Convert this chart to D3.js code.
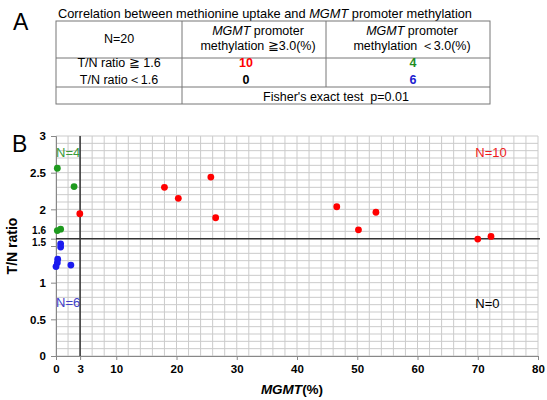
<!DOCTYPE html>
<html>
<head>
<meta charset="utf-8">
<script src="https://cdn.jsdelivr.net/npm/d3@7"></script>
<style>
body { margin: 0; background: #fff; }
svg text { font-family: "Liberation Sans", Arial, sans-serif; }
</style>
</head>
<body>
<div id="chart"></div>
<script>
// Scatter data: MGMT(%) vs T/N ratio
var red_x = [3.95, 18.0, 20.3, 25.7, 26.5, 46.6, 50.2, 53.1, 70.0, 72.2];
var red_y = [1.94, 2.30, 2.15, 2.44, 1.885, 2.035, 1.72, 1.96, 1.594, 1.63];
var green_x = [0.22, 3.0, 0.22, 0.77];
var green_y = [2.56, 2.31, 1.71, 1.73];
var blue_x = [0.77, 0.77, 0.28, 0.22, 0.0, 2.47];
var blue_y = [1.53, 1.485, 1.32, 1.27, 1.22, 1.24];

// Axis ticks
var x_ticks = [0, 10, 20, 30, 40, 50, 60, 70, 80];
var y_ticks = [0, 0.5, 1, 1.5, 1.6, 2, 2.5, 3];
var x_cut = 4;          // where the threshold line sits on the drawn axis
var x_cut_label = "3";  // label printed under it
var y_cut = 1.6;

// Quadrant counts
var quad_labels = ["N=4", "N=10", "N=6", "N=0"];

// Table A
var table_title = ["Correlation between methionine uptake and ", "MGMT", " promoter methylation"];
var row_labels = ["T/N ratio ≧ 1.6", "T/N ratio＜1.6"];
var col_heads = [["methylation ≧3.0(%)"], ["methylation ＜3.0(%)"]];
var counts = [[10, 4], [0, 6]];
var count_colors = [["#ff0000", "#1e8c1e"], ["#000000", "#2020d0"]];
var fisher_text = "Fisher's exact test  p=0.01";

var svg_width = 547;
var svg_height = 400;

var svg = d3.select("#chart")
  .append("svg")
  .attr("width", svg_width)
  .attr("height", svg_height);

// ---------- Panel A : table ----------
var col_x = [56, 182, 326, 490];
var row_y = [21, 58, 87, 104];
var line_color = "#777";

svg.append("text")
  .attr("x", 13).attr("y", 30)
  .attr("font-size", "23px")
  .text("A");

var title = svg.append("text")
  .attr("x", 58).attr("y", 17.5)
  .attr("font-size", "12.8px");
title.append("tspan").text(table_title[0]);
title.append("tspan").attr("font-style", "italic").text(table_title[1]);
title.append("tspan").text(table_title[2]);

var table = svg.append("g");

// outer box
table.append("rect")
  .attr("x", col_x[0]).attr("y", row_y[0])
  .attr("width", col_x[3] - col_x[0])
  .attr("height", row_y[3] - row_y[0])
  .attr("fill", "none")
  .attr("stroke", line_color);

// horizontal dividers
[row_y[1], row_y[2]].forEach(function(y) {
  table.append("line")
    .attr("x1", col_x[0]).attr("x2", col_x[3])
    .attr("y1", y).attr("y2", y)
    .attr("stroke", line_color);
});

// vertical dividers
table.append("line")
  .attr("x1", col_x[1]).attr("x2", col_x[1])
  .attr("y1", row_y[0]).attr("y2", row_y[3])
  .attr("stroke", line_color);
table.append("line")
  .attr("x1", col_x[2]).attr("x2", col_x[2])
  .attr("y1", row_y[0]).attr("y2", row_y[2])
  .attr("stroke", line_color);

var col_centers = [(col_x[0] + col_x[1]) / 2, (col_x[1] + col_x[2]) / 2 + 4, (col_x[2] + col_x[3]) / 2 + 4];
var num_centers = [246, 413];

table.append("text")
  .attr("x", col_centers[0]).attr("y", 43)
  .attr("text-anchor", "middle")
  .attr("font-size", "12.5px")
  .text("N=20");

col_heads.forEach(function(h, i) {
  var t1 = table.append("text")
    .attr("x", col_centers[i + 1]).attr("y", 35)
    .attr("text-anchor", "middle")
    .attr("font-size", "12.5px");
  t1.append("tspan").attr("font-style", "italic").text("MGMT");
  t1.append("tspan").text(" promoter");
  table.append("text")
    .attr("x", col_centers[i + 1]).attr("y", 49.5)
    .attr("text-anchor", "middle")
    .attr("font-size", "12.5px")
    .text(h[0]);
});

var row_base = [66.5, 84];
row_labels.forEach(function(lab, r) {
  table.append("text")
    .attr("x", col_centers[0]).attr("y", row_base[r])
    .attr("text-anchor", "middle")
    .attr("font-size", "12.5px")
    .text(lab);
  counts[r].forEach(function(v, c) {
    table.append("text")
      .attr("x", num_centers[c]).attr("y", row_base[r])
      .attr("text-anchor", "middle")
      .attr("font-size", "12.5px")
      .attr("font-weight", "bold")
      .attr("fill", count_colors[r][c])
      .text(v);
  });
});

table.append("text")
  .attr("x", (col_x[1] + col_x[3]) / 2).attr("y", 101)
  .attr("text-anchor", "middle")
  .attr("font-size", "12.5px")
  .style("white-space", "pre")
  .text(fisher_text);

// ---------- Panel B : scatter ----------
var plot = { left: 56, right: 538, top: 136, bottom: 356 };

var x_scale = d3.scaleLinear().domain([0, 80]).range([plot.left, plot.right]);
var y_scale = d3.scaleLinear().domain([0, 3]).range([plot.bottom, plot.top]);

svg.append("text")
  .attr("x", 12).attr("y", 152)
  .attr("font-size", "23px")
  .text("B");

// grid
var grid = svg.append("g").attr("stroke", "#cbcbcb").attr("stroke-width", 1);
d3.range(0, 81, 2).forEach(function(v) {
  grid.append("line")
    .attr("x1", x_scale(v)).attr("x2", x_scale(v))
    .attr("y1", plot.top).attr("y2", plot.bottom);
});
d3.range(0, 31, 1).forEach(function(i) {
  var v = i / 10;
  grid.append("line")
    .attr("x1", plot.left).attr("x2", plot.right)
    .attr("y1", y_scale(v)).attr("y2", y_scale(v));
});

// axes
var x_axis = svg.append("g")
  .attr("transform", `translate(0, ${plot.bottom})`)
  .call(d3.axisBottom(x_scale)
    .tickValues(x_ticks.concat([x_cut]))
    .tickFormat(d => d === x_cut ? x_cut_label : d)
    .tickSize(4)
    .tickPadding(5));

var y_axis = svg.append("g")
  .attr("transform", `translate(${plot.left}, 0)`)
  .call(d3.axisLeft(y_scale)
    .tickValues(y_ticks)
    .tickFormat(d => d)
    .tickSize(5)
    .tickPadding(5));

[x_axis, y_axis].forEach(function(ax) {
  ax.select(".domain").attr("stroke", "#888");
  ax.selectAll(".tick line").attr("stroke", "#888");
  ax.selectAll("text")
    .attr("font-family", "'Liberation Sans', Arial, sans-serif")
    .attr("font-size", "11.5px")
    .attr("font-weight", "bold")
    .attr("fill", "#000");
});

// squeeze the 1.6 / 1.5 labels so they stack like the original
y_axis.selectAll(".tick text")
  .filter(d => d === 1.6).attr("dy", -5.2).attr("font-size", "10px");
y_axis.selectAll(".tick text")
  .filter(d => d === 1.5).attr("dy", -1).attr("font-size", "10px");

// threshold lines
svg.append("line")
  .attr("x1", x_scale(x_cut)).attr("x2", x_scale(x_cut))
  .attr("y1", plot.top).attr("y2", plot.bottom)
  .attr("stroke", "#333").attr("stroke-width", 1.5);
svg.append("line")
  .attr("x1", plot.left).attr("x2", plot.right + 2)
  .attr("y1", y_scale(y_cut)).attr("y2", y_scale(y_cut))
  .attr("stroke", "#333").attr("stroke-width", 1.5);

// points
function drawPoints(xs, ys, color) {
  svg.append("g").selectAll("circle")
    .data(xs.map((x, i) => [x, ys[i]]))
    .enter()
    .append("circle")
    .attr("cx", d => x_scale(d[0]))
    .attr("cy", d => y_scale(d[1]))
    .attr("r", 3.4)
    .attr("fill", color);
}
drawPoints(red_x, red_y, "#ff0000");
drawPoints(green_x, green_y, "#1e9a1e");
drawPoints(blue_x, blue_y, "#1a1aee");

// quadrant labels
var quad_pos = [[0, 2.715], [69.6, 2.715], [0, 0.668], [69.6, 0.655]];
var quad_colors = ["#3a9a3a", "#ee1c1c", "#4040c8", "#000"];
quad_labels.forEach(function(lab, i) {
  svg.append("text")
    .attr("x", x_scale(quad_pos[i][0]))
    .attr("y", y_scale(quad_pos[i][1]))
    .attr("font-size", "13px")
    .attr("fill", quad_colors[i])
    .text(lab);
});

// axis titles
svg.append("text")
  .attr("transform", `translate(17, 246) rotate(-90)`)
  .attr("text-anchor", "middle")
  .attr("font-size", "14px")
  .attr("font-weight", "bold")
  .text("T/N ratio");

var xt = svg.append("text")
  .attr("x", 292).attr("y", 394)
  .attr("text-anchor", "middle")
  .attr("font-size", "13.5px")
  .attr("font-weight", "bold");
xt.append("tspan").attr("font-style", "italic").text("MGMT");
xt.append("tspan").text("(%)");
</script>
</body>
</html>
